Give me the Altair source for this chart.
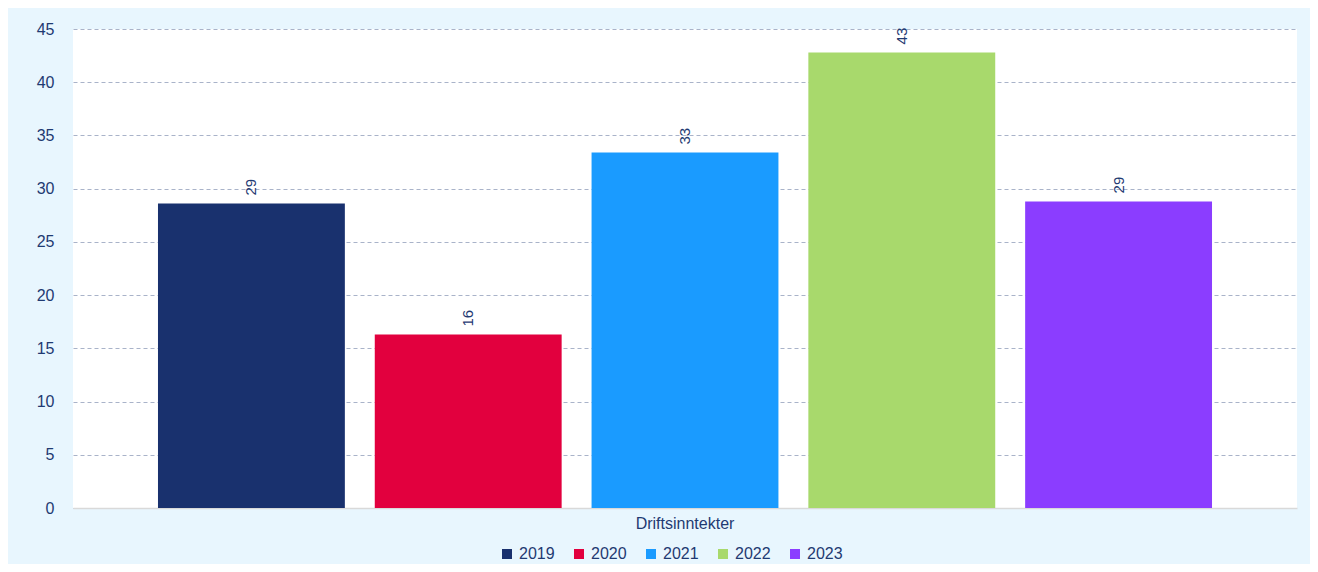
import altair as alt
import pandas as pd

# ---- data ----
category = "Driftsinntekter"
years = ["2019", "2020", "2021", "2022", "2023"]
values = [28.6, 16.3, 33.4, 42.8, 28.8]
colors = ["#19316E", "#E2003E", "#1A9BFF", "#A8D96C", "#8B3DFF"]
y_ticks = [0, 5, 10, 15, 20, 25, 30, 35, 40, 45]

navy = "#1F3A72"
bg = "#E8F6FE"

df = pd.DataFrame({"cat": [category] * len(years), "year": years, "value": values})

base = alt.Chart(df).encode(
    x=alt.X(
        "cat:N",
        scale=alt.Scale(paddingInner=0, paddingOuter=0),
        axis=alt.Axis(
            title=None, labelAngle=0, ticks=False, tickSize=0,
            domainColor="#D9D9D9", domainWidth=1.5,
            labelFontSize=16, labelColor=navy, labelPadding=7,
        ),
    ),
    xOffset=alt.XOffset(
        "year:N", scale=alt.Scale(domain=years, paddingInner=0.138, paddingOuter=0.392)
    ),
    y=alt.Y(
        "value:Q",
        scale=alt.Scale(domain=[0, 45], nice=False),
        axis=alt.Axis(
            title=None, values=y_ticks, ticks=False, tickSize=0, domain=False,
            labelFontSize=16, labelColor=navy, labelPadding=19,
            grid=True, gridColor="#A9B3C9", gridDash=[4, 3], gridWidth=1,
        ),
    ),
)

bars = base.mark_bar().encode(
    color=alt.Color(
        "year:N",
        scale=alt.Scale(domain=years, range=colors),
        legend=alt.Legend(
            title=None, orient="none", legendX=426, legendY=517,
            direction="horizontal", symbolType="square", symbolSize=100,
            symbolStrokeWidth=0, labelFontSize=16, labelColor=navy,
            labelOffset=4, columnPadding=16, padding=0,
        ),
    )
)

labels = base.mark_text(
    angle=270, align="left", baseline="middle", dx=8, fontSize=15, color=navy
).encode(text=alt.Text("value:Q", format=".0f"))

chart = (
    alt.layer(bars, labels)
    .properties(
        width=1224,
        height=479,
        autosize=alt.AutoSizeParams(type="none"),
        padding={"left": 65, "top": 21, "right": 13, "bottom": 56},
        background=bg,
    )
    .configure(font="Liberation Sans")
    .configure_view(fill="white", stroke=None)
)

chart.save("out.html", embed_options={"renderer": "svg", "actions": False})
